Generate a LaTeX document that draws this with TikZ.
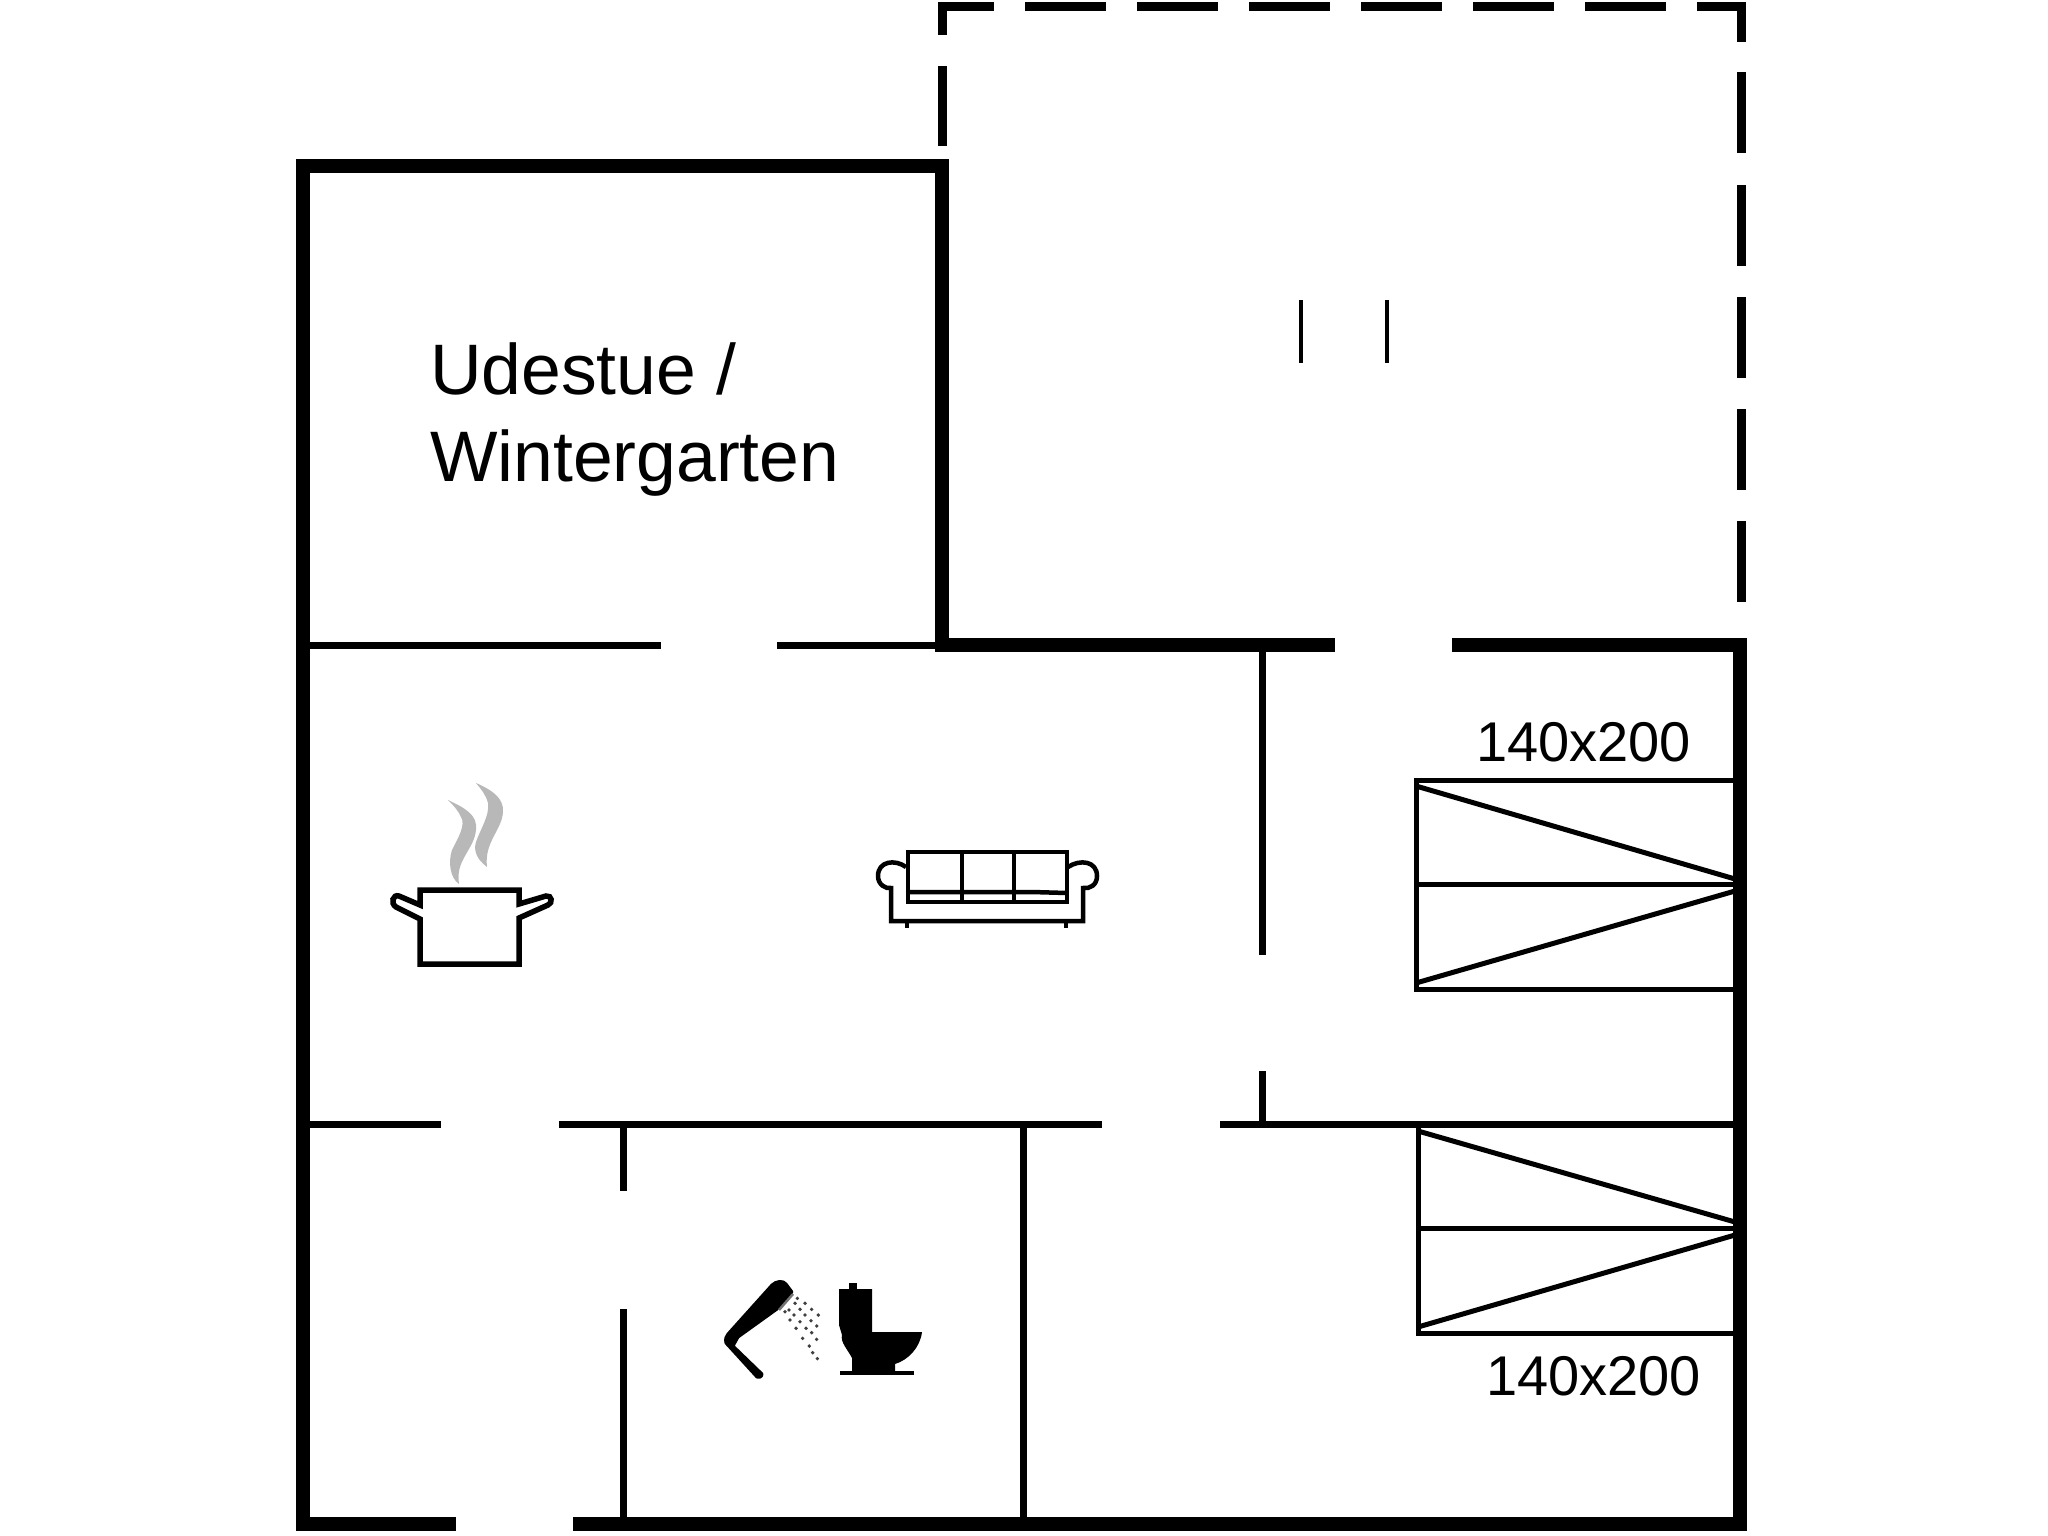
\documentclass[tikz,border=0pt]{standalone}
\usepackage{fontspec}
\setmainfont{Liberation Sans}
\tikzset{
  thickwall/.style={line width=14pt,line cap=butt,line join=miter},
  thinwall/.style={line width=7pt,line cap=butt},
  dashwall/.style={line width=9pt,line cap=butt,line join=miter},
  bedline/.style={line width=5pt,line cap=butt,line join=miter},
  iconline/.style={line width=5.5pt,line join=miter,line cap=butt},
  sofaline/.style={line width=4.5pt,line join=miter,line cap=butt},
  label/.style={inner sep=0pt,outer sep=0pt,anchor=base west}
}
\begin{document}
\begin{tikzpicture}[x=1pt,y=-1pt]
\useasboundingbox (0,0) rectangle (2048,1536);
% thin walls
\draw[thinwall] (303,645) -- (661,645);
\draw[thinwall] (777,645) -- (942,645);
\draw[thinwall] (303,1124) -- (441,1124);
\draw[thinwall] (559,1124) -- (1102,1124);
\draw[thinwall] (1220,1124) -- (1740,1124);
\draw[thinwall] (1262,645) -- (1262,955);
\draw[thinwall] (1262,1071) -- (1262,1124);
\draw[thinwall] (623,1124) -- (623,1191);
\draw[thinwall] (623,1309) -- (623,1524);
\draw[thinwall] (1023,1124) -- (1023,1524);
% thick walls
\draw[thickwall] (456,1524) -- (303,1524) -- (303,166) -- (942,166) -- (942,645) -- (1335,645);
\draw[thickwall] (1452,645) -- (1740,645) -- (1740,1524) -- (573,1524);
% dashed outline
\draw[dashwall] (942,35) -- (942,7) -- (994,7);
\draw[dashwall] (942,66) -- (942,146);
\foreach \a in {1025,1137,1249,1361,1473,1585}{\draw[dashwall] (\a,7) -- (\a+81,7);}
\draw[dashwall] (1697,7) -- (1741,7) -- (1741,42);
\foreach \a in {72,185,297,409,521}{\draw[dashwall] (1741,\a) -- (1741,\a+81);}
% ticks
\draw[line width=4pt] (1301,300) -- (1301,363);
\draw[line width=4pt] (1387,300) -- (1387,363);
% beds
\draw[bedline] (1733,780) -- (1416,780) -- (1416,989) -- (1733,989);
\draw[bedline] (1416,884) -- (1733,884);
\draw[bedline] (1416,786) -- (1735,879);
\draw[bedline] (1416,983) -- (1735,891);
\draw[bedline] (1418,1124) -- (1418,1333) -- (1733,1333);
\draw[bedline] (1418,1228) -- (1733,1228);
\draw[bedline] (1418,1131) -- (1735,1222);
\draw[bedline] (1418,1327) -- (1735,1235);
% labels
\node[label] (udestue) at (430,394) {\fontsize{71.5}{85}\selectfont Udestue /};
\node[label] (winter) at (430,481) {\fontsize{71.5}{85}\selectfont Wintergarten};
\node[label] (bedone) at (1476,761) {\fontsize{56}{66}\selectfont 140x200};
\node[label] (bedtwo) at (1486,1395) {\fontsize{56}{66}\selectfont 140x200};
% pot
\draw[iconline] (420,890) -- (519,890) -- (519,904) -- (546,896)
  .. controls (552,895) and (553,903) .. (548,905) -- (519,918) -- (519,964) -- (420,964) -- (420,919)
  -- (396,907) .. controls (390,903) and (393,894) .. (399,896) -- (420,905) -- cycle;
\fill[black!28] (448,800) .. controls (465,808) and (478,815) .. (476,830)
  .. controls (474,850) and (455,860) .. (459,884)
  .. controls (450,878) and (448,862) .. (452,850)
  .. controls (458,838) and (466,825) .. (461,817) .. controls (458,810) and (453,805) .. (448,800) -- cycle;
\fill[black!28] (476,783) .. controls (492,790) and (504,798) .. (503,812)
  .. controls (502,830) and (484,842) .. (487,867)
  .. controls (478,860) and (473,852) .. (476,842)
  .. controls (480,830) and (490,815) .. (488,803) .. controls (486,795) and (481,789) .. (476,783) -- cycle;
% sofa
\draw[sofaline] (908,852) rectangle (1067,902);
\draw[sofaline] (962,852) -- (962,902);
\draw[sofaline] (1014,852) -- (1014,902);
\draw[sofaline] (908,892) -- (1032,892) -- (1067,893);
\draw[sofaline] (906,867) .. controls (895,859) and (878,861) .. (878,876)
  .. controls (878,885) and (886,889) .. (891,888) -- (891,921) -- (1083,921) -- (1083,888)
  .. controls (1090,889) and (1097,885) .. (1097,876) .. controls (1097,861) and (1080,859) .. (1068,867);
\draw[sofaline] (907,921) -- (907,928);
\draw[sofaline] (1066,921) -- (1066,928);
% shower
\fill[draw=black,line width=3pt,line join=round] (726,1343) .. controls (725,1339) and (726,1336) .. (728,1334) -- (772,1285)
  .. controls (776,1281) and (783,1280) .. (786,1284) -- (792,1292) -- (777,1309) -- (738,1337) -- (733,1346) -- (762,1374)
  .. controls (762,1377) and (759,1378) .. (757,1377) -- cycle;
\draw[black!55,line width=2.5pt] (793,1294) -- (779,1310);
\foreach \a/\b in {262/115,285/130,305/148,325/165,
  255/130,270/148,285/165,303/182,320/198,
  237/150,252/165,270/185,288/205,305/218,320/238,
  225/155,240/180,258/205,278/235,298/258,308/278,322/296}
  {\fill[black!75] ({710+\a/3},{1260+\b/3}) circle (1.9pt);}
% toilet
\fill (849,1283) rectangle (857,1290);
\fill (839,1289) -- (872,1289) -- (872,1332) -- (922,1332)
  .. controls (920,1348) and (908,1360) .. (895,1364) -- (895,1372) -- (852,1372) -- (852,1358)
  .. controls (848,1350) and (840,1342) .. (842,1335) -- (839,1325) -- cycle;
\fill (840,1371) rectangle (914,1375);
\end{tikzpicture}
\end{document}
